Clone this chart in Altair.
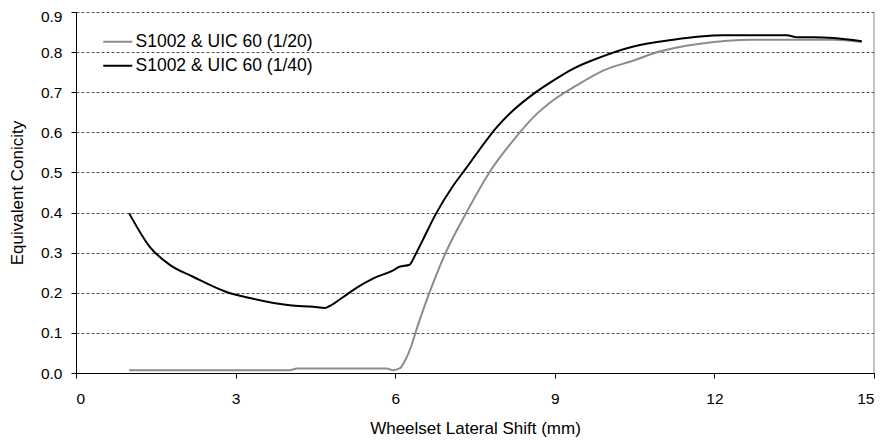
import altair as alt
import pandas as pd

s20 = "S1002 & UIC 60 (1/20)"
s40 = "S1002 & UIC 60 (1/40)"

x20 = [1.0, 4.02, 4.15, 5.84, 5.96, 6.09, 6.20, 6.30, 6.38, 6.64, 6.96, 7.33, 7.77,
       8.22, 8.60, 8.97, 9.41, 9.91, 10.48, 10.98, 11.73, 12.73, 14.24, 14.77]
y20 = [0.007, 0.007, 0.011, 0.011, 0.007, 0.012, 0.035, 0.066, 0.100, 0.199, 0.303, 0.398, 0.500,
       0.580, 0.638, 0.680, 0.717, 0.754, 0.779, 0.802, 0.821, 0.831, 0.831, 0.825]

x40 = [1.0, 1.39, 1.77, 2.20, 2.83, 3.27, 4.02, 4.46, 4.68, 4.77, 5.03, 5.28, 5.59, 5.96,
       6.08, 6.27, 6.36, 6.52, 6.77, 7.08, 7.33, 7.58, 7.91, 8.22, 8.60, 8.97, 9.35, 9.85,
       10.48, 11.23, 11.73, 12.17, 13.36, 13.55, 13.86, 14.24, 14.77]
y40 = [0.398, 0.314, 0.269, 0.240, 0.202, 0.187, 0.169, 0.165, 0.162, 0.167, 0.190, 0.213, 0.236, 0.256,
       0.265, 0.270, 0.290, 0.332, 0.398, 0.465, 0.510, 0.556, 0.613, 0.655, 0.696, 0.729, 0.759, 0.787,
       0.814, 0.831, 0.839, 0.842, 0.842, 0.837, 0.837, 0.835, 0.827]

x_ticks = [0, 3, 6, 9, 12, 15]
y_ticks = [0.0, 0.1, 0.2, 0.3, 0.4, 0.5, 0.6, 0.7, 0.8, 0.9]

df = pd.concat([
    pd.DataFrame({"x": x20, "y": y20, "series": s20, "ord": 0}),
    pd.DataFrame({"x": x40, "y": y40, "series": s40, "ord": 1}),
])

FONT = "Liberation Sans"

lines = alt.Chart(df).mark_line(strokeWidth=2, interpolate="monotone").encode(
    x=alt.X("x:Q", scale=alt.Scale(domain=[0, 15], nice=False),
            axis=alt.Axis(values=x_ticks, title="Wheelset Lateral Shift (mm)", grid=False,
                          tickSize=5, labelPadding=13, titlePadding=14)),
    y=alt.Y("y:Q", scale=alt.Scale(domain=[0, 0.9], nice=False),
            axis=alt.Axis(values=y_ticks, format=".1f", title="Equivalent Conicity",
                          grid=True, gridDash=[3, 2], gridColor="#555555",
                          tickSize=5, labelPadding=9, titlePadding=14,
                          labelOffset={"condition": {"test": "datum.value >= 0.89", "value": 4},
                                       "value": 0})),
    color=alt.Color("series:N",
                    scale=alt.Scale(domain=[s20, s40], range=["#8c8c8c", "#000000"]),
                    legend=alt.Legend(title=None, orient="none", legendX=33, legendY=21,
                                      symbolType="M-2,0H2", symbolSize=210,
                                      symbolStrokeWidth=2, labelFontSize=17.5,
                                      labelFont=FONT, labelColor="black", labelLimit=400,
                                      labelOffset=9, rowPadding=5, padding=0,
                                      symbolOffset=0)),
    order="ord:Q",
)

border = alt.Chart(pd.DataFrame({"x": [15]})).mark_rule(color="#8c8c8c", strokeWidth=1).encode(
    x="x:Q", y=alt.datum(0), y2=alt.datum(0.9)
)

chart = alt.layer(border, lines).properties(
    width=798, height=361,
    autosize=alt.AutoSizeParams(type="none"),
    padding={"left": 68, "top": 4, "right": 2, "bottom": 68},
).configure_view(stroke=None).configure_axis(
    labelFont=FONT, titleFont=FONT, labelFontSize=15.5, titleFontSize=17,
    titleFontWeight="normal", labelColor="black", titleColor="black",
    domainColor="black", tickColor="black", domainWidth=1
)

chart.save("out.html", embed_options={"renderer": "svg", "actions": False})
